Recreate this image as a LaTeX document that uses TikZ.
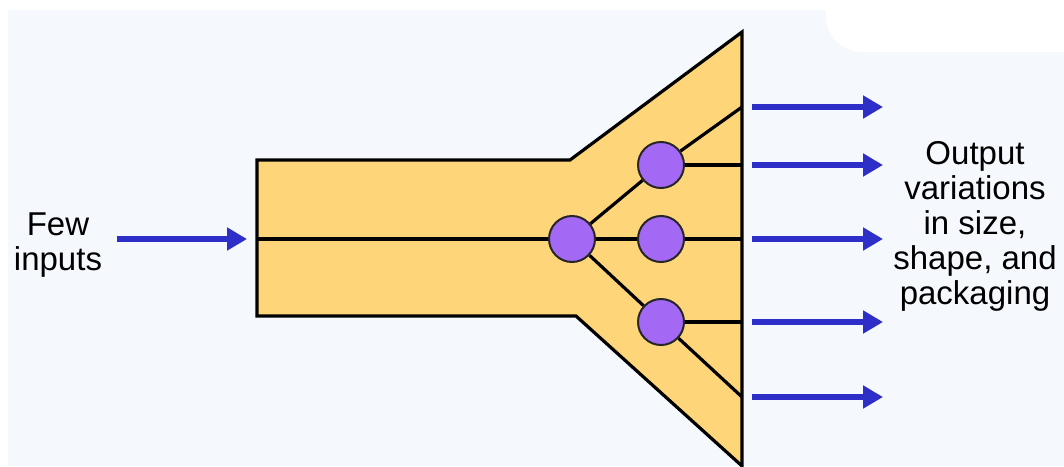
\documentclass[tikz,border=0pt]{standalone}
\usepackage{fontspec}
\setmainfont{Liberation Sans}
\usetikzlibrary{arrows.meta, positioning, calc}
\definecolor{funnel}{RGB}{255,213,122}
\definecolor{knot}{RGB}{163,104,244}
\definecolor{flow}{RGB}{46,46,200}
\definecolor{paper}{RGB}{245,248,252}

\begin{document}
\begin{tikzpicture}[x=0.5pt, y=-0.5pt,
    hub/.style={circle, draw=black!85, fill=knot, line width=1pt, minimum size=23pt, inner sep=0pt},
    wire/.style={line width=1.6pt},
    flowarrow/.style={-{Triangle[length=10pt, width=11pt]}, draw=flow, line width=3pt},
    every node/.style={font=\fontsize{16.5}{17.5}\selectfont, align=center}]
  \useasboundingbox (0,0) rectangle (1064,466);
  \fill[white] (0,0) rectangle (1064,466);
  \fill[paper] (8,10) rectangle (1064,466);
  \fill[white, rounded corners=18pt] (826,-30) rectangle (1100,52);
  % funnel body
  \draw[wire, fill=funnel] (257,160) -- (570,160) -- (742,32) -- (742,466)
    -- (576,316) -- (257,316) -- cycle;
  \node[hub] (split) at (572,239) {};
  \node[hub] (upper) at (661,165) {};
  \node[hub] (middle) at (661,239) {};
  \node[hub] (lower) at (661,322) {};
  \coordinate (in) at (257,239);
  \foreach \n/\y in {1/107,2/165,3/239,4/322,5/397} {
    \coordinate (e\n) at (742,\y);
    \coordinate (o\n) at (752,\y);
    \coordinate (t\n) at (883,\y);
  }
  \draw[wire] (in) -- (split) -- (middle) -- (e3);
  \draw[wire] (split) -- (upper) -- (e1);
  \draw[wire] (upper) -- (e2);
  \draw[wire] (split) -- (lower) -- (e5);
  \draw[wire] (lower) -- (e4);
  % arrows in and out
  \coordinate (src) at (117,239);
  \coordinate (dst) at (247,239);
  \draw[flowarrow] (src) -- (dst);
  \foreach \n in {1,...,5} \draw[flowarrow] (o\n) -- (t\n);
  \node (few) at (58,245) {Few\\inputs};
  \node (out) at (975,226) {Output\\variations\\in size,\\shape, and\\packaging};
\end{tikzpicture}
\end{document}
